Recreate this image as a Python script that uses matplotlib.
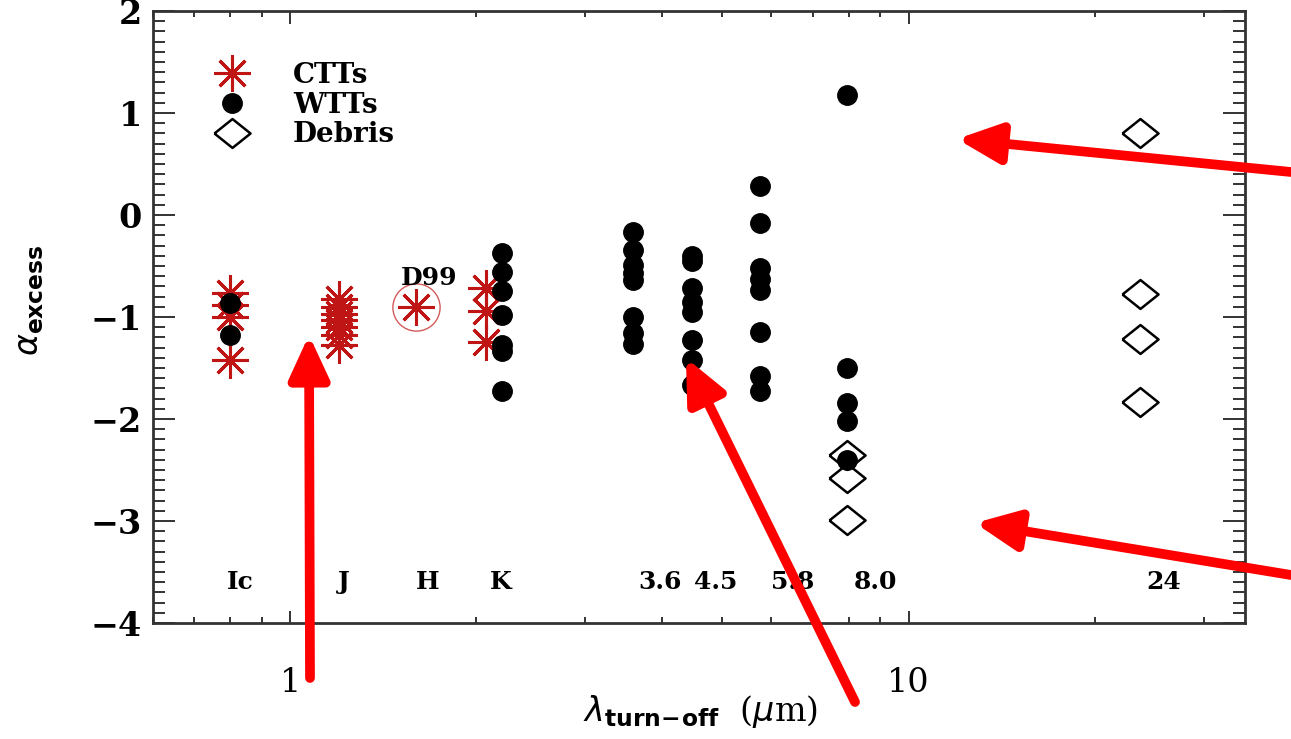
import numpy as np
import matplotlib
matplotlib.use('Agg')
import matplotlib.pyplot as plt
from matplotlib.ticker import MultipleLocator, LogLocator, NullFormatter, FixedLocator, FixedFormatter

plt.rcParams['font.family'] = ['DejaVu Serif']
plt.rcParams['mathtext.fontset'] = 'dejavusans'

# band positions (microns) and alpha_excess values
ctts_x = [0.8, 1.2, 1.6, 2.07]
ctts_y = [
    [-0.76, -0.88, -1.0, -1.42],
    [-0.82, -0.9, -0.97, -1.03, -1.1, -1.18, -1.27],
    [-0.9],
    [-0.72, -0.94, -1.25],
]

wtts_x = [0.8, 2.2, 3.58, 4.47, 5.75, 7.95]
wtts_y = [
    [-0.86, -1.18],
    [-0.37, -0.56, -0.75, -0.98, -1.27, -1.33, -1.73],
    [-0.17, -0.34, -0.49, -0.57, -0.64, -1.0, -1.16, -1.26],
    [-0.40, -0.45, -0.72, -0.85, -0.95, -1.23, -1.42, -1.67],
    [0.28, -0.08, -0.52, -0.63, -0.74, -1.15, -1.58, -1.73],
    [1.18, -1.5, -1.84, -2.02, -2.4],
]

debris_x = [7.95, 23.7]
debris_y = [
    [-2.35, -2.58, -2.99],
    [0.80, -0.77, -1.22, -1.83],
]

# D99 model point (circled)
d99_x = 1.6
d99_y = -0.9

band_names = ['Ic', 'J', 'H', 'K', '3.6', '4.5', '5.8', '8.0', '24']
band_label_x = [0.83, 1.22, 1.67, 2.19, 3.97, 4.87, 6.49, 8.84, 25.9]
band_label_y = -3.6

RED = '#c01515'


def expand(xs, ys):
    px, py = [], []
    for x, col in zip(xs, ys):
        px += [x] * len(col)
        py += col
    return np.array(px), np.array(py)


def add_arrow(ax, tail, tip):
    # tail/tip given in image pixels (origin top-left)
    W, H = 1291.0, 739.0
    ax.annotate('', xy=(tip[0] / W, 1 - tip[1] / H), xycoords='figure fraction',
                xytext=(tail[0] / W, 1 - tail[1] / H), textcoords='figure fraction',
                annotation_clip=False, zorder=10,
                arrowprops=dict(arrowstyle='-|>,head_length=2.6,head_width=1.2',
                                mutation_scale=10, color='#ff0000', lw=7,
                                shrinkA=0, shrinkB=0))


def plot():
    fig = plt.figure(figsize=(12.91, 7.39), dpi=100)
    ax = fig.add_axes([0.1185, 0.157, 0.8459, 0.8281])

    asterisk = (8, 2, 0)
    diamond = [(-1, 0), (0, 0.8), (1, 0), (0, -0.8), (-1, 0)]

    cx, cy = expand(ctts_x, ctts_y)
    ax.plot(cx, cy, linestyle='none', marker=asterisk, markersize=26,
            markeredgecolor=RED, markeredgewidth=2.2, color=RED, label='CTTs')

    ax.plot([d99_x], [d99_y], linestyle='none', marker='o', markersize=34,
            markerfacecolor='none', markeredgecolor=RED, markeredgewidth=1.0, alpha=0.7)

    wx, wy = expand(wtts_x, wtts_y)
    ax.plot(wx, wy, linestyle='none', marker='o', markersize=14,
            color='black', label='WTTs')

    dx, dy = expand(debris_x, debris_y)
    ax.plot(dx, dy, linestyle='none', marker=diamond, markersize=26,
            markerfacecolor='none', markeredgecolor='black', markeredgewidth=1.8,
            label='Debris')

    ax.text(1.68, -0.62, 'D99', fontsize=18, fontweight='bold', ha='center', va='center')
    for name, x in zip(band_names, band_label_x):
        ax.text(x, band_label_y, name, fontsize=18, fontweight='bold',
                ha='center', va='center')

    ax.set_xscale('log')
    ax.set_xlim(0.6, 35)
    ax.set_ylim(-4, 2)

    ax.xaxis.set_major_locator(FixedLocator([1, 10]))
    ax.xaxis.set_major_formatter(FixedFormatter(['1', '10']))
    ax.xaxis.set_minor_locator(LogLocator(base=10, subs=np.arange(2, 10)))
    ax.xaxis.set_minor_formatter(NullFormatter())
    ax.yaxis.set_major_locator(MultipleLocator(1))
    ax.yaxis.set_minor_locator(MultipleLocator(0.1))

    ax.tick_params(which='both', direction='in', top=True, right=True,
                   width=1.4, color='#333333', labelsize=24)
    ax.tick_params(axis='x', which='major', length=9, pad=32)
    ax.tick_params(axis='x', which='minor', length=4.5)
    ax.tick_params(axis='y', which='major', length=16, pad=8)
    ax.tick_params(axis='y', which='minor', length=8.5)
    for lbl in ax.get_yticklabels():
        lbl.set_fontweight('bold')
    for s in ax.spines.values():
        s.set_linewidth(2)
        s.set_color('#333333')

    ax.set_xlabel(r'$\lambda_{\mathbf{turn\!-\!off}}$  ($\mu$m)', fontsize=24, va='center')
    ax.xaxis.set_label_coords(0.501, -0.145)
    ax.set_ylabel(r'$\alpha_{\mathbf{excess}}$', fontsize=24, va='center')
    ax.yaxis.set_label_coords(-0.113, 0.528)

    ax.legend(loc='upper left', bbox_to_anchor=(0.0595, 0.917), frameon=False,
              prop={'size': 20, 'weight': 'bold'}, handlelength=1.0,
              handletextpad=1.7, labelspacing=0.1, borderpad=0,
              borderaxespad=0, numpoints=1)

    add_arrow(ax, (310, 678), (309, 335))
    add_arrow(ax, (855, 702), (686, 358))
    add_arrow(ax, (1291, 172), (957, 139))
    add_arrow(ax, (1291, 575), (975, 523))

    fig.savefig('out.png', dpi=100)
    plt.close(fig)


if __name__ == '__main__':
    plot()
